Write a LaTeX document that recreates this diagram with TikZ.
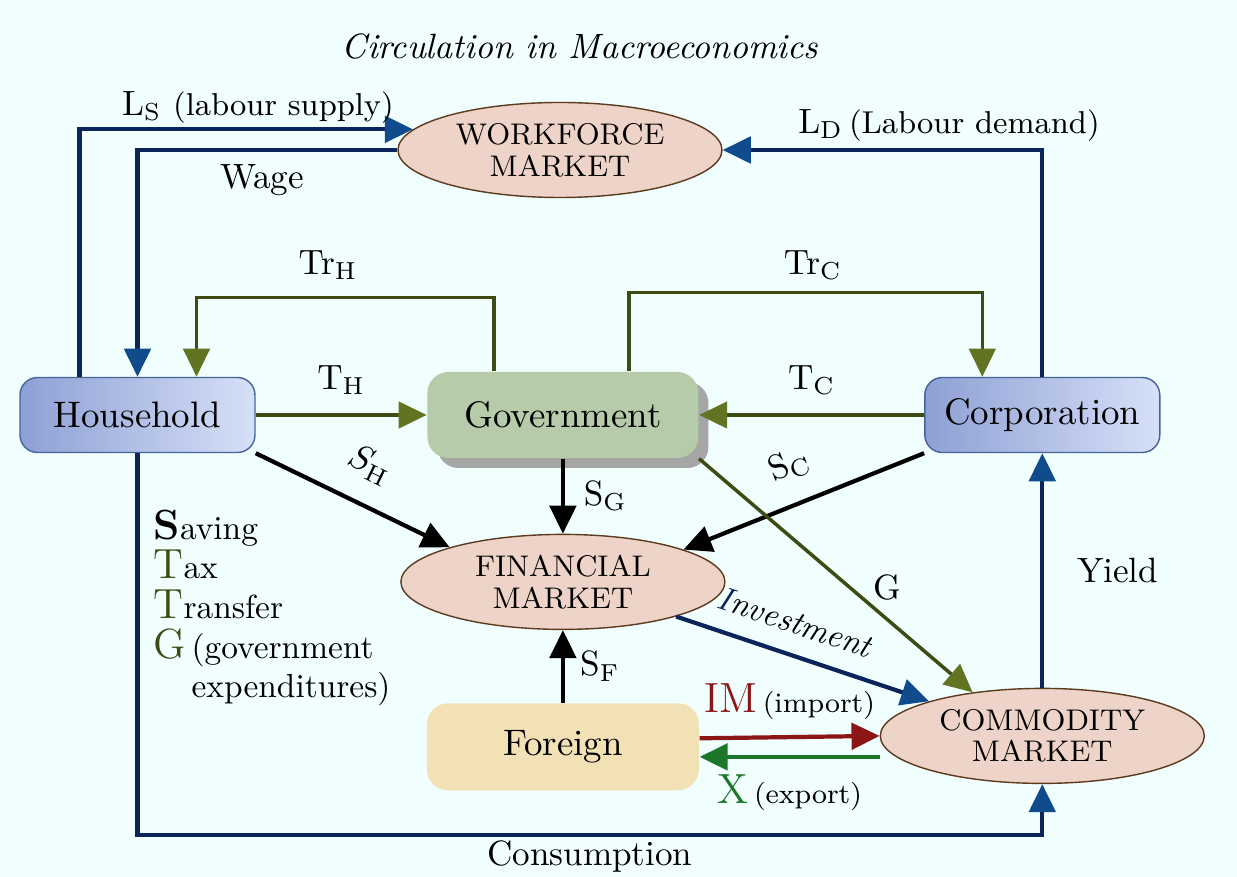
\documentclass[tikz,border=0pt]{standalone}
\usetikzlibrary{shapes.geometric,positioning,arrows.meta,shadows}

\definecolor{bgcol}{RGB}{240,254,254}
\definecolor{navyline}{RGB}{12,36,92}
\definecolor{navyhead}{RGB}{16,76,140}
\definecolor{oliveline}{RGB}{62,76,20}
\definecolor{olivehead}{RGB}{98,116,34}
\definecolor{marketfill}{RGB}{238,212,200}
\definecolor{marketline}{RGB}{92,58,30}
\definecolor{agentdark}{RGB}{142,160,212}
\definecolor{agentlight}{RGB}{214,224,248}
\definecolor{agentline}{RGB}{70,100,150}
\definecolor{govfill}{RGB}{182,203,170}
\definecolor{forfill}{RGB}{243,225,182}
\definecolor{imred}{RGB}{140,22,22}
\definecolor{xgreen}{RGB}{28,120,40}

\begin{document}
\begin{tikzpicture}[>={Triangle[length=8pt,width=7.5pt]},
  agent/.style={rectangle,rounded corners=5pt,draw=agentline,left color=agentdark,
    right color=agentlight,minimum width=2.35cm,minimum height=0.75cm,
    font=\fontsize{10.5}{12}\selectfont},
  govbox/.style={rectangle,rounded corners=6pt,fill=govfill,minimum width=2.71cm,
    minimum height=0.86cm,font=\fontsize{10.5}{12}\selectfont,
    drop shadow={shadow xshift=1mm,shadow yshift=-1mm,fill=black!35,opacity=1}},
  forbox/.style={rectangle,rounded corners=6pt,fill=forfill,minimum width=2.72cm,
    minimum height=0.87cm,font=\fontsize{10.5}{12}\selectfont},
  market/.style={ellipse,draw=marketline,fill=marketfill,minimum width=3.24cm,
    minimum height=0.95cm,inner sep=0pt,align=center,font=\fontsize{8.5}{9}\selectfont},
  navyflow/.style={draw=navyline,line width=1.2pt,-{Triangle[length=8pt,width=7.5pt,color=navyhead]}},
  oliveflow/.style={draw=oliveline,line width=1pt,-{Triangle[length=8pt,width=7.5pt,color=olivehead]}},
  blackflow/.style={draw=black,line width=1.2pt,->},
  imflow/.style={draw=imred,line width=1.2pt,->},
  xflow/.style={draw=xgreen,line width=1.2pt,->},
  legend/.style={align=left,inner sep=0pt,font=\fontsize{9.5}{11.3}\selectfont}]

\fill[bgcol] (0,0) rectangle (12.37,8.77);
\useasboundingbox (0,0) rectangle (12.37,8.77);

\node[font=\itshape] (title) at (5.80,8.30) {Circulation in Macroeconomics};

% agents
\node[agent] (hh) at (1.375,4.62) {Household};
\node[govbox,right=1.71cm of hh] (gov) {Government};
\node[agent,right=2.25cm of gov] (corp) {Corporation};

% markets
\node[market] (wf) at (5.60,7.27) {WORKFORCE\\MARKET};
\node[market,below=7.5mm of gov] (fin) {FINANCIAL\\MARKET};
\node[market,below=2.345cm of corp] (com) {COMMODITY\\MARKET};
\node[forbox,below=7.25mm of fin] (for) {Foreign};

% labour
\draw[navyflow] ([xshift=-5.8mm]hh.north) |- (wf.172);
\draw[navyflow] (wf.west) -| (hh.north);
\draw[navyflow] (corp.north) |- (wf.east);
\node (ls) at (2.58,7.70) {$\mathrm{L_S}$ {\small(labour supply)}};
\node (wage) at (2.62,6.97) {Wage};
\node (ld) at (9.49,7.52) {$\mathrm{L_D}$\,{\small(Labour demand)}};

% taxes and transfers
\draw[oliveflow] ([xshift=-6.9mm]gov.north) -- ++(0,0.74) -| ([xshift=5.9mm]hh.north);
\draw[oliveflow] ([xshift=6.6mm]gov.north) -- ++(0,0.79) -| ([xshift=-6.0mm]corp.north);
\node (trh) at (3.28,6.12) {$\mathrm{Tr_H}$};
\node (trc) at (8.13,6.12) {$\mathrm{Tr_C}$};
\draw[oliveflow] (hh) -- node[above=2pt] {$\mathrm{T_H}$} (gov);
\draw[oliveflow] (corp) -- node[above=2pt] {$\mathrm{T_C}$} (gov);

% savings
\draw[blackflow] (hh.south east) -- node[sloped,above=3pt] {$S_{\mathrm{H}}$} (fin.163);
\draw[blackflow] (gov) -- node[right=2pt] {$\mathrm{S_G}$} (fin);
\draw[blackflow] (corp.south west) -- node[sloped,above=3pt] {$\mathrm{S_C}$} (fin.15);
\draw[blackflow] (for) -- node[right=1pt] {$\mathrm{S_F}$} (fin);

% goods
\draw[oliveflow] (gov.south east) -- node[pos=0.55,right=3pt] {G} (com.148);
\draw[navyflow] (fin.-17) -- node[sloped,above=2pt,pos=0.43,font=\fontsize{9.5}{11}\selectfont] {\itshape{\color{navyline}I}nvestment} (com.163);
\draw[imflow] ([yshift=0.85mm]for.east) -- node[above=1pt] {{\large\color{imred}IM}\,{\footnotesize(import)}} (com.west);
\draw[xflow] ([yshift=-2.1mm]com.west) -- node[below=1pt] {{\large\color{xgreen}X}\,{\footnotesize(export)}} ([yshift=-2.1mm]com.west -| for.east);
\draw[navyflow] (com) -- node[right=6pt] {Yield} (corp);
\draw[navyflow] (hh.south) -- ++(0,-3.82) -| node[pos=0.25,below=1pt,inner sep=0pt] {Consumption} (com.south);

\node[legend,anchor=north west] (key) at (1.53,3.68)
  {{\large\bfseries S}aving\\
   {\large\color{oliveline}T}ax\\
   {\large\color{oliveline}T}ransfer\\
   {\large\color{oliveline}G}\,(government\\
   \phantom{\large G}\,expenditures)};
\end{tikzpicture}
\end{document}
